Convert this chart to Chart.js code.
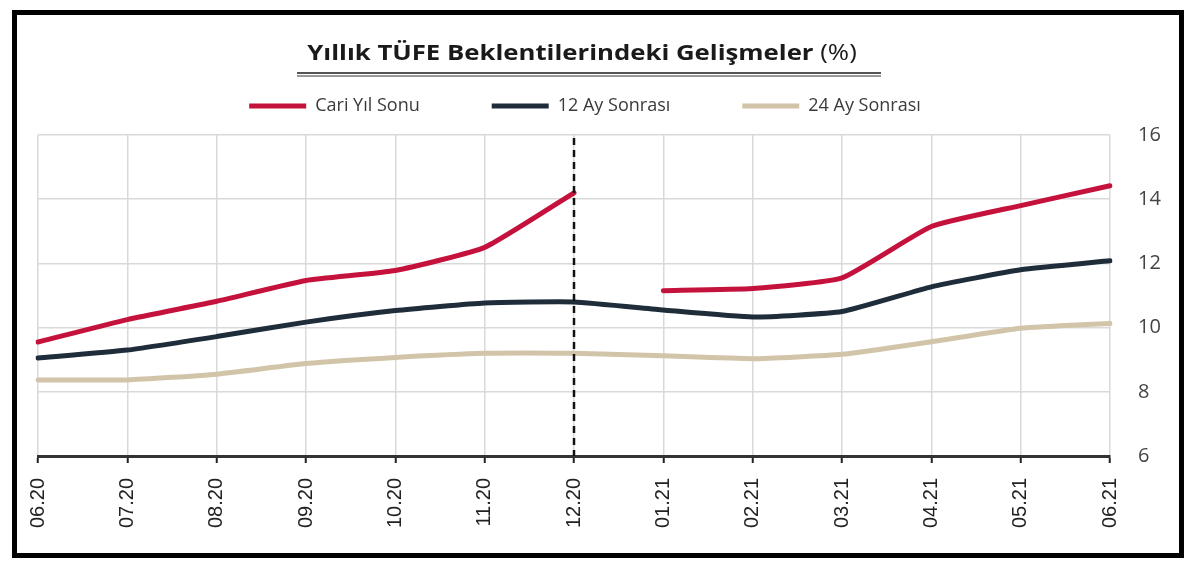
<!DOCTYPE html>
<html>
<head>
<meta charset="utf-8">
<script src="https://cdn.jsdelivr.net/npm/chart.js@4.4.1/dist/chart.umd.min.js"></script>
<style>
  html, body { margin: 0; padding: 0; background: #fff; }
  #wrap { position: relative; width: 1200px; height: 574px; overflow: hidden; background: #fff; }
  #frame { position: absolute; left: 12px; top: 10px; width: 1172px; height: 548px; box-sizing: border-box; border: 5px solid #000; pointer-events: none; }
  #title { position: absolute; left: 0; width: 1164px; top: 36px; text-align: center; font-family: "Open Sans", sans-serif; font-size: 22px; color: #1a1a1a; white-space: nowrap; transform: scaleX(1.17); transform-origin: 582px 0; }
  #title b { font-weight: 700; }
  #title span { font-weight: 400; }
  #uline { position: absolute; left: 297px; width: 584px; top: 72px; height: 1px; border-top: 2px solid #555; border-bottom: 2px solid #999; }
  canvas { position: absolute; left: 0; top: 0; }
</style>
</head>
<body>
<div id="wrap">
  <canvas id="c" width="1200" height="574"></canvas>
  <div id="title"><b>Yıllık TÜFE Beklentilerindeki Gelişmeler</b> <span>(%)</span></div>
  <div id="uline"></div>
  <div id="frame"></div>
</div>
<script>
const categories = ['06.20','07.20','08.20','09.20','10.20','11.20','12.20','01.21','02.21','03.21','04.21','05.21','06.21'];
const seriesNames = ['Cari Yıl Sonu', '12 Ay Sonrası', '24 Ay Sonrası'];
const cariYilSonu = [9.55, 10.25, 10.82, 11.47, 11.78, 12.5, 14.2, 11.15, 11.22, 11.55, 13.15, 13.8, 14.42];
const onIkiAySonrasi = [9.05, 9.3, 9.72, 10.17, 10.53, 10.77, 10.8, 10.55, 10.33, 10.5, 11.27, 11.8, 12.08];
const yirmiDortAySonrasi = [8.37, 8.37, 8.55, 8.88, 9.07, 9.2, 9.2, 9.12, 9.03, 9.17, 9.56, 9.98, 10.13];
const breakAfter = '12.20';   // Cari Yıl Sonu resets after this month; dashed marker here
const yMin = 6, yMax = 16, yStep = 2;

const colors = ['#C4123C', '#1F2D3B', '#D2C4A8'];
const breakIndex = categories.indexOf(breakAfter);
// the current-year series is drawn as two pieces, split at the year change
const cariA = cariYilSonu.map((v, i) => i <= breakIndex ? v : null);
const cariB = cariYilSonu.map((v, i) => i > breakIndex ? v : null);

const markerPlugin = {
  id: 'marker',
  afterDatasetsDraw(chart) {
    const {ctx, chartArea, scales} = chart;
    const x = scales.x.getPixelForValue(breakIndex);
    ctx.save();
    ctx.strokeStyle = '#111';
    ctx.lineWidth = 2.5;
    ctx.setLineDash([7, 5]);
    ctx.beginPath();
    ctx.moveTo(x, chartArea.top + 3);
    ctx.lineTo(x, chartArea.bottom);
    ctx.stroke();
    ctx.restore();
  }
};

const mk = (label, data, color, extra) => Object.assign({
  label, data,
  borderColor: color, backgroundColor: color,
  borderWidth: 5, pointRadius: 0, tension: 0.15, spanGaps: false,
  borderCapStyle: 'round', yAxisID: 'y'
}, extra || {});

new Chart(document.getElementById('c'), {
  type: 'line',
  data: {
    labels: categories,
    datasets: [
      mk(seriesNames[2], yirmiDortAySonrasi, colors[2]),
      mk(seriesNames[1], onIkiAySonrasi, colors[1]),
      mk(seriesNames[0] + ' ', cariB, colors[0], { hideInLegend: true }),
      mk(seriesNames[0], cariA, colors[0])
    ]
  },
  options: {
    responsive: false,
    animation: false,
    devicePixelRatio: 1,
    layout: { padding: { top: 25, right: 30, left: 0, bottom: 0 } },
    plugins: {
      title: { display: false },
      tooltip: { enabled: false },
      legend: {
        display: true,
        position: 'top',
        reverse: true,
        labels: {
          boxWidth: 57,
          boxHeight: 5,
          padding: 72,
          color: '#3a3a3a',
          font: { family: 'Open Sans', size: 18 },
          filter: (item, data) => !data.datasets[item.datasetIndex].hideInLegend,
          generateLabels(chart) {
            const items = Chart.defaults.plugins.legend.labels.generateLabels(chart);
            items.forEach(it => { it.lineWidth = 0; it.strokeStyle = 'rgba(0,0,0,0)'; });
            return items;
          }
        }
      }
    },
    scales: {
      x: {
        position: 'bottom',
        offset: false,
        grid: { color: '#d9d9d9', lineWidth: 1.5, drawTicks: true, tickLength: 7, tickWidth: 2, tickColor: '#222' },
        border: { display: true, color: '#333', width: 3 },
        ticks: { autoSkip: false, maxRotation: 90, minRotation: 90, padding: 15, color: '#222', font: { family: 'Liberation Sans', size: 20 } },
        afterFit(s) { s.height = 118; }
      },
      xTop: {
        type: 'category',
        position: 'top',
        display: true,
        grid: { display: false },
        border: { display: false },
        ticks: { display: false },
        afterFit(s) { s.height = 10; }
      },
      y: {
        position: 'right',
        min: yMin, max: yMax,
        grid: { color: '#d9d9d9', lineWidth: 1.5, drawTicks: false },
        border: { display: false },
        ticks: { stepSize: yStep, padding: 28, color: '#444', font: { family: 'Open Sans', size: 20 } },
        afterFit(s) { s.width = 60; }
      },
      yLeft: {
        position: 'left',
        display: true,
        grid: { display: false },
        border: { display: false },
        ticks: { display: false },
        afterFit(s) { s.width = 38; }
      }
    }
  },
  plugins: [markerPlugin]
});
</script>
</body>
</html>
